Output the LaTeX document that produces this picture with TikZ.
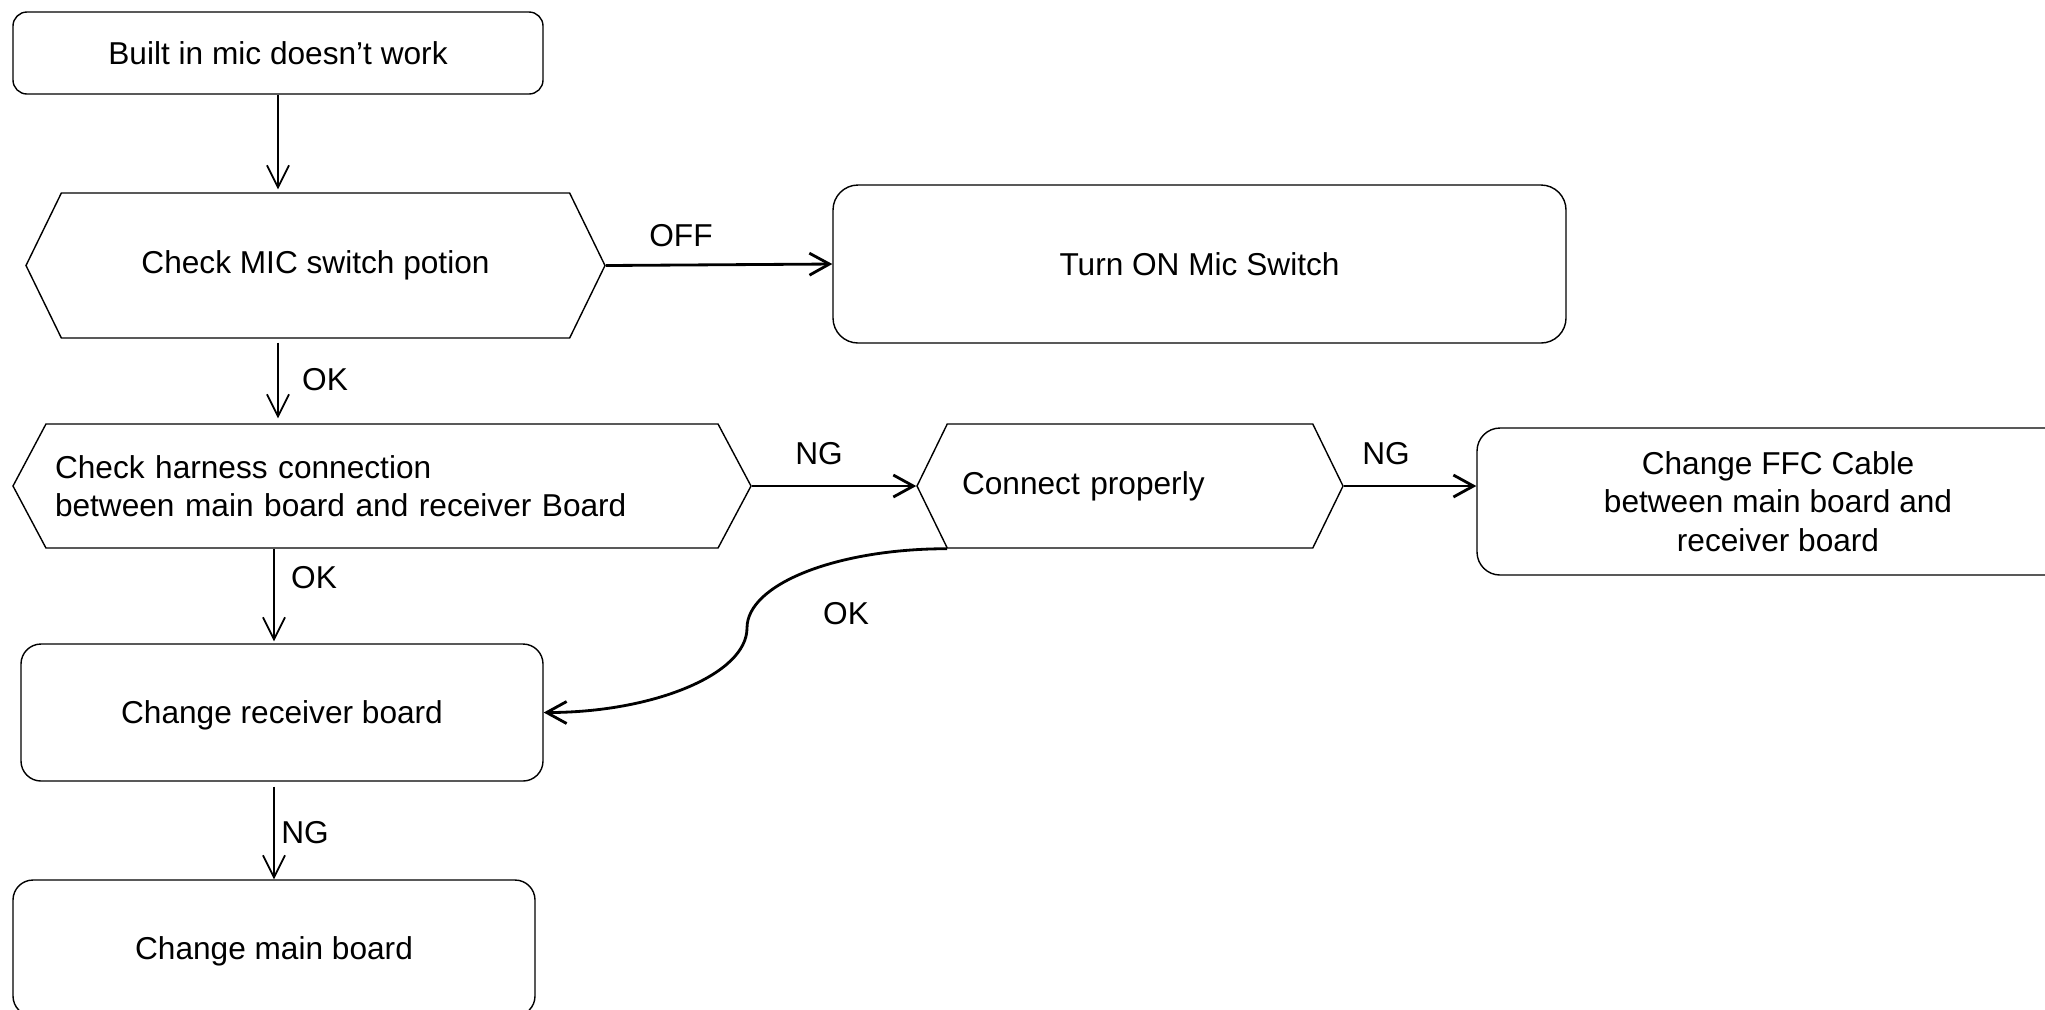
\documentclass[tikz,border=0pt]{standalone}
\usepackage{fontspec}
\setmainfont{Liberation Sans}
\usetikzlibrary{positioning,shapes.symbols,arrows.meta}

\begin{document}
\begin{tikzpicture}[
  font=\fontsize{9}{11}\selectfont,
  bxRound/.style ={draw=black, line width=0.4pt, rounded corners=0.2cm, inner sep=0pt, align=center},
  hxCheck/.style ={draw=black, line width=0.4pt, shape=signal, signal to=west and east, inner sep=0pt},
  arThin/.style  ={line width=0.5pt, -{Straight Barb[length=2.2mm,width=2.2mm]}},
  arThick/.style ={line width=0.8pt, -{Straight Barb[length=2mm,width=2.2mm]}},
  lbFlow/.style  ={inner sep=0pt},
]
\useasboundingbox (0,0) rectangle (20.45,-10.09);
% boxes and checks, positions in px/100 of the sheet
\node[bxRound, rounded corners=0.14cm, minimum width=5.30cm, minimum height=0.82cm] (start) at (2.78,-0.53) {Built in mic doesn’t work};
\node[hxCheck, signal pointer angle=128, minimum width=5.79cm, minimum height=1.45cm] (chkMic) at (3.155,-2.655) {Check MIC switch potion};
\node[bxRound, rounded corners=0.25cm, minimum width=7.33cm, minimum height=1.58cm] (turnOn) at (11.995,-2.64) {Turn ON Mic Switch};
\node[hxCheck, signal pointer angle=124, minimum width=7.38cm, minimum height=1.24cm, text width=6.54cm, align=left] (chkHarn) at (3.82,-4.86) {Check harness connection\\between main board and receiver Board};
\node[hxCheck, signal pointer angle=128, minimum width=4.26cm, minimum height=1.24cm, text width=3.36cm, align=left] (connOk) at (11.30,-4.86) {Connect properly};
\node[bxRound, rounded corners=0.23cm, minimum width=6.02cm, minimum height=1.47cm] (chgFfc) at (17.78,-5.015) {Change FFC Cable\\between main board and\\receiver board};
\node[bxRound, text depth=0pt, minimum width=5.22cm, minimum height=1.37cm] (chgRecv) at (2.82,-7.125) {Change receiver board};
\node[bxRound, text depth=0pt, minimum width=5.22cm, minimum height=1.36cm] (chgMain) at (2.74,-9.48) {Change main board};
% connectors
\draw[arThin] (start.south) -- ([yshift=0.03cm]start.south |- chkMic.north);
\draw[arThin] ([yshift=-0.04cm]chkMic.south -| start.south) -- ([yshift=0.05cm]chkHarn.north -| start.south);
\draw[arThick] (chkMic.east) -- (turnOn.west);
\draw[arThick] (chkHarn.east) -- (connOk.west);
\draw[arThick] (connOk.east) -- (connOk.east -| chgFfc.west);
\draw[arThin] (chkHarn.south -| chgMain.north) -- ([yshift=0.02cm]chgRecv.north -| chgMain.north);
\draw[arThin] ([yshift=-0.05cm]chgRecv.south -| chgMain.north) -- (chgMain.north);
% OK path back from Connect properly
\coordinate (cvStart) at ([xshift=-1.83cm]connOk.south);
\coordinate (cvMid) at (7.47,-6.28);
\draw[arThick] (cvStart) .. controls +(-1.1,0) and +(0,0.44) .. (cvMid)
  .. controls +(0,-0.46) and +(1.1,0) .. (chgRecv.east);
% flow labels
\node[lbFlow] (lbOff) at (6.81,-2.36) {OFF};
\node[lbFlow] (lbOkMic) at (3.25,-3.80) {OK};
\node[lbFlow] (lbNgHarn) at (8.19,-4.54) {NG};
\node[lbFlow] (lbNgConn) at (13.86,-4.54) {NG};
\node[lbFlow] (lbOkHarn) at (3.14,-5.78) {OK};
\node[lbFlow] (lbOkConn) at (8.46,-6.14) {OK};
\node[lbFlow] (lbNgRecv) at (3.05,-8.33) {NG};
\end{tikzpicture}
\end{document}
